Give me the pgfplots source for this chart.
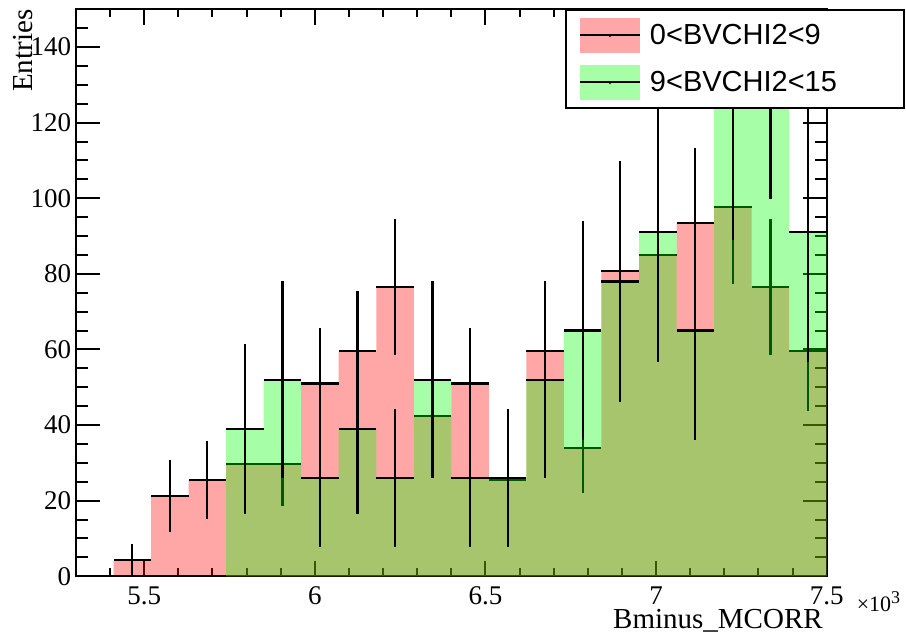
\documentclass[border=0pt]{standalone}
\usepackage{fontspec}
\setmainfont{Liberation Serif}
\newfontfamily\legendfont{Liberation Sans}
\usepackage{pgfplots}
\usepackage{pgfplotstable}
\pgfplotsset{compat=1.18}

% Weighted B- candidates per bin of corrected mass (GeV), two vertex-chi2 selections.
% xlo: bin low edge, xc: bin centre, y: content, ex: half bin width, ey: error.
% The last row only closes the step outline of the filled histogram.
\pgfplotstableread{
xlo   xc     y      ex     ey
5.30  5.355  0      0.055  0
5.41  5.465  4.25   0.055  4.25
5.52  5.575  21.25  0.055  9.50
5.63  5.685  25.5   0.055  10.41
5.74  5.795  29.75  0.055  11.24
5.85  5.905  29.75  0.055  11.24
5.96  6.015  51     0.055  14.72
6.07  6.125  59.5   0.055  15.90
6.18  6.235  76.5   0.055  18.03
6.29  6.345  42.5   0.055  13.44
6.40  6.455  51     0.055  14.72
6.51  6.565  25.5   0.055  10.41
6.62  6.675  59.5   0.055  15.90
6.73  6.785  34     0.055  12.02
6.84  6.895  80.75  0.055  18.53
6.95  7.005  85     0.055  19.01
7.06  7.115  93.5   0.055  19.93
7.17  7.225  97.75  0.055  20.38
7.28  7.335  76.5   0.055  18.03
7.39  7.445  59.5   0.055  15.90
7.50  7.555  59.5   0      0
}\lowchi

\pgfplotstableread{
xlo   xc     y      ex     ey
5.30  5.355  0      0.055  0
5.41  5.465  0      0.055  0
5.52  5.575  0      0.055  0
5.63  5.685  0      0.055  0
5.74  5.795  39     0.055  22.52
5.85  5.905  52     0.055  26.00
5.96  6.015  26     0.055  18.38
6.07  6.125  39     0.055  22.52
6.18  6.235  26     0.055  18.38
6.29  6.345  52     0.055  26.00
6.40  6.455  26     0.055  18.38
6.51  6.565  26     0.055  18.38
6.62  6.675  52     0.055  26.00
6.73  6.785  65     0.055  29.07
6.84  6.895  78     0.055  31.84
6.95  7.005  91     0.055  34.39
7.06  7.115  65     0.055  29.07
7.17  7.225  130    0.055  41.11
7.28  7.335  143    0.055  43.12
7.39  7.445  91     0.055  34.39
7.50  7.555  91     0      0
}\highchi

\pgfplotsset{
  histfill/.style={forget plot, const plot, draw=none, fill=#1, fill opacity=0.35},
  histerr/.style={forget plot, draw=none, mark=none,
    skip coords between index={20}{21},
    error bars/.cd, x dir=both, x explicit, y dir=both, y explicit,
    error mark=none, error bar style={draw=black, line width=1.1bp, solid}},
  histlegend/.style={legend image code/.code={
    \path[draw=none, fill=#1, fill opacity=0.35] (0bp,-8.75bp) rectangle (30bp,8.75bp);
    \path[draw=black, line width=1bp] (0bp,0bp) -- (30bp,0bp);
    \path[draw=none, fill=black] (15bp,0bp) circle (0.8bp);}},
}

\begin{document}
\begin{tikzpicture}
\path[use as bounding box] (-38bp,-30.35bp) rectangle (415bp,288.15bp);
\begin{axis}[
  at={(0,0)}, anchor=south west,
  scale only axis, width=375.35bp, height=283.5bp,
  clip mode=individual,
  xmin=5.3, xmax=7.5, ymin=0, ymax=150,
  axis line style={line width=1bp},
  every tick/.style={black, line width=1bp},
  tick align=inside,
  xtick={5.5,6,6.5,7,7.5},
  xticklabels={5.5,6,6.5,7,7.5},
  minor xtick={5.4,5.6,5.7,5.8,5.9,6.1,6.2,6.3,6.4,6.6,6.7,6.8,6.9,7.1,7.2,7.3,7.4},
  ytick={0,20,...,140},
  minor ytick={5,10,15,25,30,35,45,50,55,65,70,75,85,90,95,105,110,115,125,130,135,145},
  xtick style={/pgfplots/major tick length=7.85bp, /pgfplots/minor tick length=4bp},
  ytick style={/pgfplots/major tick length=12bp, /pgfplots/minor tick length=6bp},
  /pgf/number format/assume math mode=true,
  tick label style={font=\fontsize{13.5bp}{16bp}\selectfont},
  yticklabel style={inner sep=0pt, xshift=-2.2bp},
  xticklabel style={inner sep=0pt, yshift=-5bp},
  xlabel={Bminus\_MCORR},
  xlabel style={at={(axis description cs:0.9952,-0.0912)}, anchor=base east,
    inner sep=0pt, font=\fontsize{14.5bp}{17bp}\selectfont},
  ylabel={Entries},
  ylabel style={at={(axis description cs:-0.0573,1)}, anchor=base east,
    inner sep=0pt, font=\fontsize{14.5bp}{17bp}\selectfont},
  legend style={at={(axis description cs:0.6514,1)}, anchor=north west,
    draw=black, line width=1bp, fill=white,
    inner xsep=6.5bp, inner ysep=3.85bp, row sep=6bp,
    font=\legendfont\fontsize{14.5bp}{17bp}\selectfont,
    cells={anchor=west},
    /tikz/every odd column/.append style={column sep=2.5bp}},
]
% 0 < BVCHI2 < 9
\addplot[histfill=red] table[x=xlo, y=y] {\lowchi} \closedcycle;
\addplot[histerr] table[x=xc, y=y, x error=ex, y error=ey] {\lowchi};
% 9 < BVCHI2 < 15
\addplot[histfill=green] table[x=xlo, y=y] {\highchi} \closedcycle;
\addplot[histerr] table[x=xc, y=y, x error=ex, y error=ey] {\highchi};

\addlegendimage{histlegend=red}
\addlegendentry{0<BVCHI2<9}
\addlegendimage{histlegend=green}
\addlegendentry{9<BVCHI2<15\hspace*{25bp}}

% axis scale factor
\node[anchor=base west, inner sep=0pt, font=\fontsize{11bp}{13bp}\selectfont]
  at (axis description cs:1.0395,-0.0624)
  {×10\raisebox{3.9bp}{\fontsize{9bp}{11bp}\selectfont 3}};
\end{axis}
\end{tikzpicture}
\end{document}
